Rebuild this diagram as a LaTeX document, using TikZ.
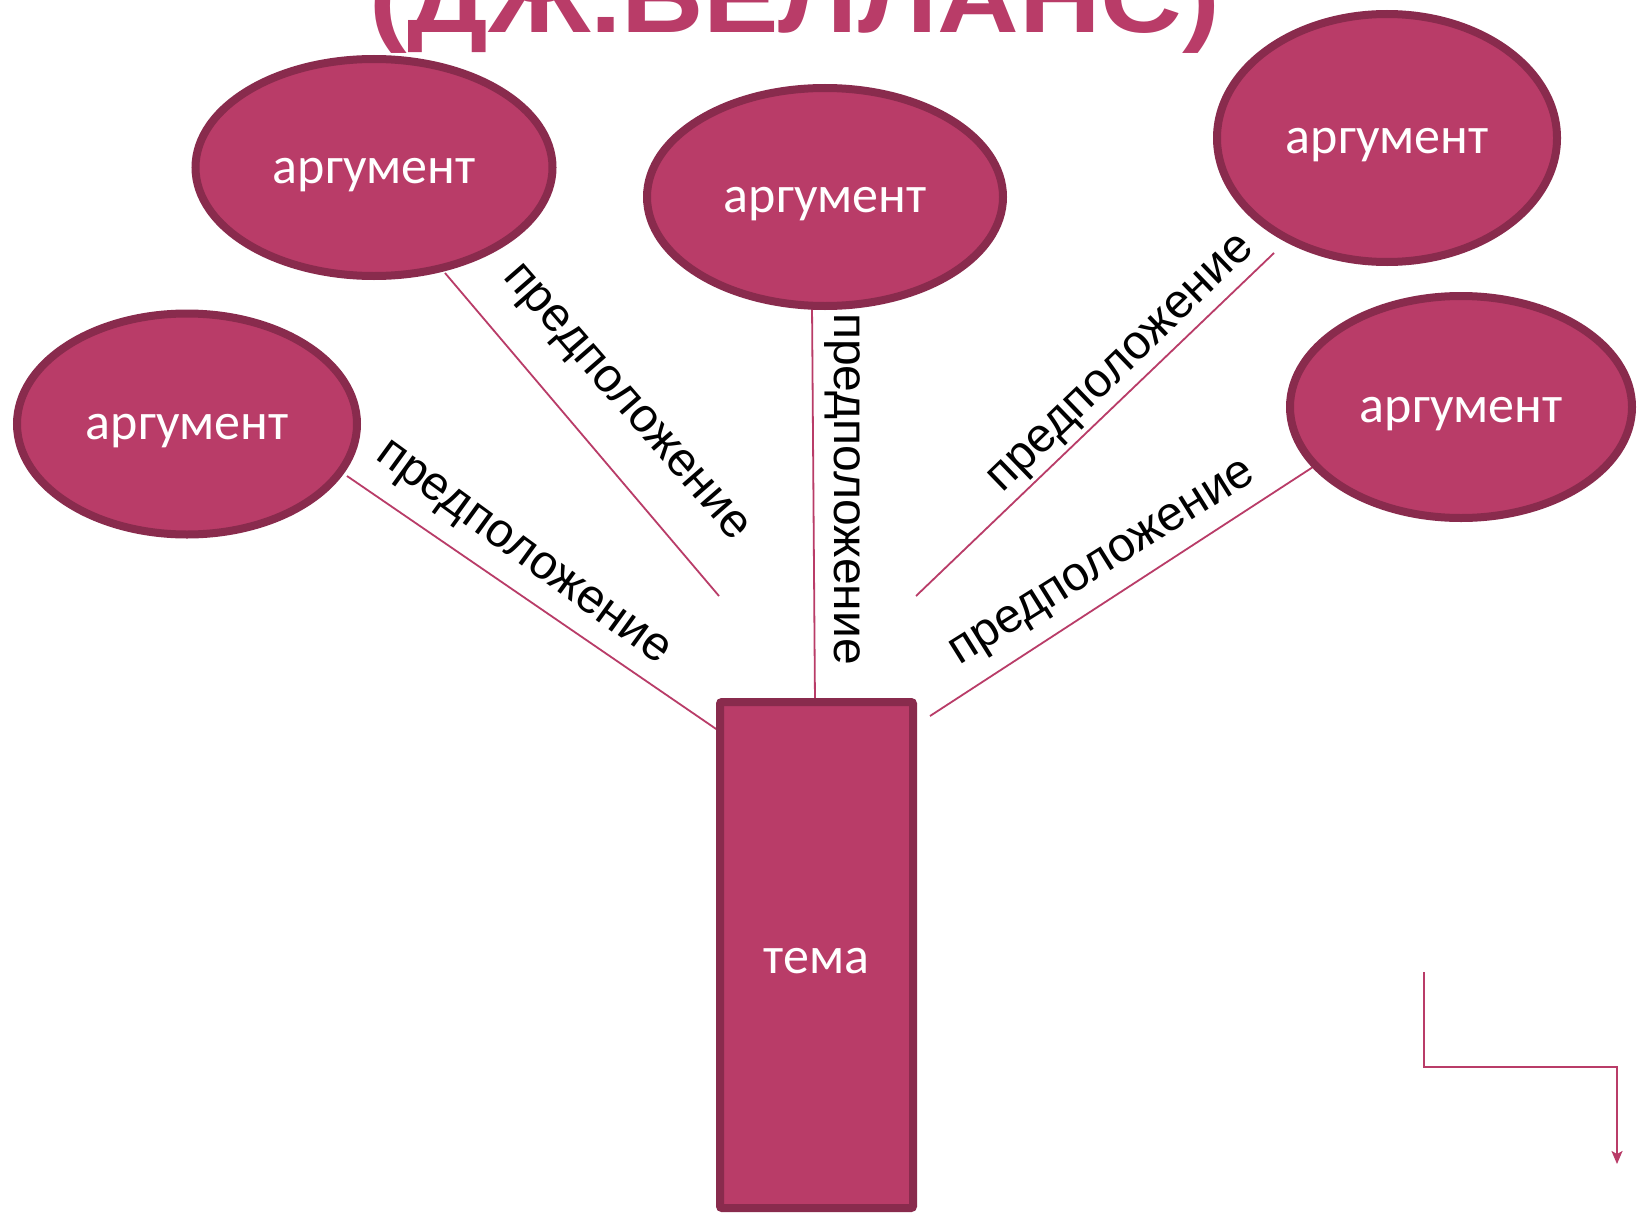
\documentclass[tikz,border=0pt]{standalone}
\usepackage{fontspec}
\setmainfont{Liberation Sans}
\newfontfamily\argfont{Carlito}
\usetikzlibrary{shapes.geometric,arrows.meta}
\definecolor{berry}{HTML}{B93C68}
\definecolor{berrydark}{HTML}{892B4D}
\begin{document}
\begin{tikzpicture}[x=1pt,y=-1pt,
  argnode/.style={ellipse,draw=berrydark,fill=berry,line width=8pt,inner sep=0pt,
    text=white,font=\argfont\fontsize{52}{60}\selectfont,text height=31pt,text depth=0pt},
  temabox/.style={rectangle,draw=berrydark,fill=berry,line width=8pt,rounded corners=2pt,
    inner sep=0pt,text=white,font=\argfont\fontsize{52}{60}\selectfont,text height=36pt,text depth=0pt},
  link/.style={draw=berry,line width=1.8pt},
  lab/.style={font=\fontsize{48}{56}\selectfont,anchor=mid,inner sep=0pt,text=black}
]
\useasboundingbox (0,0) rectangle (1637,1212);
\clip (0,0) rectangle (1637,1212);
\fill[white] (0,0) rectangle (1637,1212);

% title
\node[font=\bfseries\fontsize{101}{110}\selectfont,text=berry,anchor=base,inner sep=0pt,xscale=1.12] (title) at (795,33) {(ДЖ.БЕЛЛАНС)};

% connector end points
\coordinate (aS) at (347,476); \coordinate (aE) at (722,733);
\coordinate (bS) at (445,273); \coordinate (bE) at (719,596);
\coordinate (cS) at (812,305); \coordinate (cE) at (815,704);
\coordinate (dS) at (1274,253); \coordinate (dE) at (916,596);
\coordinate (eS) at (1313,467); \coordinate (eE) at (930,716);

\draw[link] (aS) -- (aE);
\draw[link] (bS) -- (bE);
\draw[link] (cS) -- (cE);
\draw[link] (dS) -- (dE);
\draw[link] (eS) -- (eE);

% nodes
\node[argnode,minimum width=357pt,minimum height=217pt] (eTL) at (374,167.5) {аргумент};
\node[argnode,minimum width=340pt,minimum height=221pt] (eL) at (187,424) {аргумент};
\node[argnode,minimum width=356pt,minimum height=218pt] (eM) at (825,197) {аргумент};
\node[argnode,minimum width=340pt,minimum height=248pt] (eTR) at (1387,138) {аргумент};
\node[argnode,minimum width=342pt,minimum height=222pt] (eR) at (1461,407) {аргумент};
\node[temabox,minimum width=193pt,minimum height=506pt] (tema) at (816.5,955) {тема};

% labels
\node[lab,rotate=-36] (la) at (518,560) {предположение};
\node[lab,rotate=-49] (lb) at (620,408) {предположение};
\node[lab,rotate=-90] (lc) at (837,489) {предположение};
\node[lab,rotate=44] (ld) at (1127,370) {предположение};
\node[lab,rotate=32] (le) at (1107,570) {предположение};

% bottom-right connector
\coordinate (p1) at (1424,972);
\coordinate (p3) at (1617,1067);
\coordinate (p4) at (1617,1164);
\draw[link,line width=2pt,-{Stealth[length=13pt,width=11pt,inset=3pt]}] (p1) |- (p3) -- (p4);
\end{tikzpicture}
\end{document}
